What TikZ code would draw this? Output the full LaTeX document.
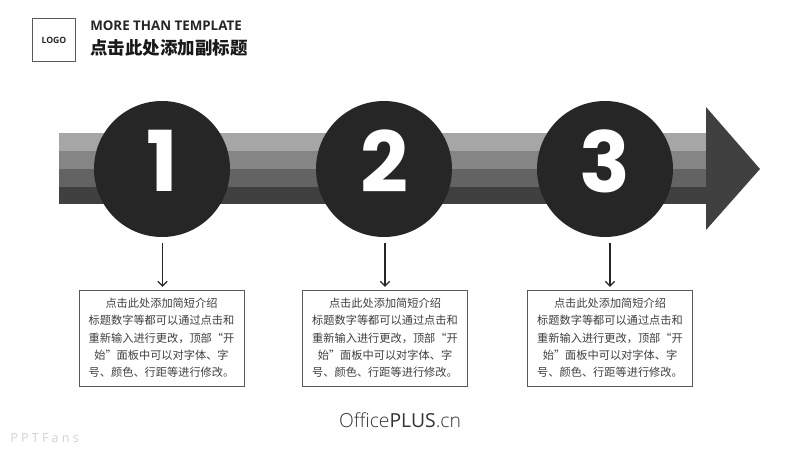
\documentclass[tikz,border=0pt]{standalone}
\usepackage{fontspec}
\setmainfont{Open Sans}
\newfontfamily\cjk{Noto Sans CJK SC}
\newfontfamily\numfont{Poppins}
\newfontfamily\lightfont{Open Sans Light}
\usepackage{tikz}
\usetikzlibrary{shapes,arrows,arrows.meta}
\definecolor{stripea}{HTML}{A6A6A6}
\definecolor{stripeb}{HTML}{858585}
\definecolor{stripec}{HTML}{636363}
\definecolor{striped}{HTML}{404040}
\definecolor{circlegray}{HTML}{262626}
\tikzset{
  stepcircle/.style={circle, fill=circlegray, draw=none, inner sep=0pt,
    minimum size=136*0.75pt},
  stepnum/.style={text=white, inner sep=0pt, font=\numfont\bfseries\fontsize{63}{63}\selectfont},
  infobox/.style={draw=black!65, line width=0.6pt, fill=white, minimum width=165*0.75pt,
    minimum height=96*0.75pt, inner sep=0pt, align=center, text=black!75,
    font=\cjk\fontsize{8.4}{13}\selectfont},
  pointer/.style={-{Straight Barb[length=3.6pt,width=7pt,line width=0.9pt]}, line width=0.9pt, black!85, shorten >=2pt},
}
\newcommand{\infotext}{点击此处添加简短介绍\\标题数字等都可以通过点击和\\重新输入进行更改，顶部“开\\始”面板中可以对字体、字\\号、颜色、行距等进行修改。}
\begin{document}
\begin{tikzpicture}[x=0.75pt, y=-0.75pt]
       \useasboundingbox (0, 0) rectangle (800, 450);
       % Sizes
       \pgfmathsetmacro{\bandleft}{59}
       \pgfmathsetmacro{\bandright}{706}

       % band
       \fill[stripea] (\bandleft, 133) rectangle (\bandright, 151);
       \fill[stripeb] (\bandleft, 151) rectangle (\bandright, 169);
       \fill[stripec] (\bandleft, 169) rectangle (\bandright, 187);
       \fill[striped] (\bandleft, 187) rectangle (\bandright, 204);
       \fill[striped] (\bandright, 107) -- (760, 169) -- (\bandright, 230) -- cycle;

       % circles
       \node[stepcircle] (c1) at (162, 169) {};
       \node[stepcircle] (c2) at (384, 169) {};
       \node[stepcircle] (c3) at (605, 169) {};
       \node[stepnum] (n1) at (162, 161) {1};
       \node[stepnum] (n2) at (384, 161) {2};
       \node[stepnum] (n3) at (605, 161) {3};

       % boxes
       \node[infobox] (b1) at (161.5, 338) {\infotext};
       \node[infobox] (b2) at (385, 338) {\infotext};
       \node[infobox] (b3) at (610, 338) {\infotext};

       % arrows
       \coordinate (s1) at (162.5, 243);
       \coordinate (s2) at (385, 243);
       \coordinate (s3) at (610, 243);
       \draw[pointer] (s1) -- (s1 |- b1.north);
       \draw[pointer] (s2) -- (b2);
       \draw[pointer] (s3) -- (b3);

       % header
       \node[draw=black!65, line width=0.6pt, minimum size=43*0.75pt, inner sep=0pt,
         font=\bfseries\fontsize{6.5}{8}\selectfont, text=black!85] (logo) at (54, 40) {LOGO};
       \node[right, inner sep=0pt, font=\bfseries\fontsize{10}{12}\selectfont, text=black!85]
         (title) at (90, 26) {MORE THAN TEMPLATE};
       \node[right, inner sep=0pt, font=\cjk\bfseries\fontsize{13.1}{15}\selectfont, text=black!90]
         (subtitle) at (90, 48) {点击此处添加副标题};

       % labels
       \node[font=\fontsize{14.5}{16}\selectfont, text=black!80, inner sep=0pt] (brand) at (400, 420) {{\lightfont Office}PLUS{\lightfont .cn}};
       \node[right, inner sep=0pt, font=\fontsize{9.5}{10}\selectfont, text=black!18] (mark) at (10, 438) {\addfontfeature{LetterSpace=25}PPTFans};
\end{tikzpicture}
\end{document}
